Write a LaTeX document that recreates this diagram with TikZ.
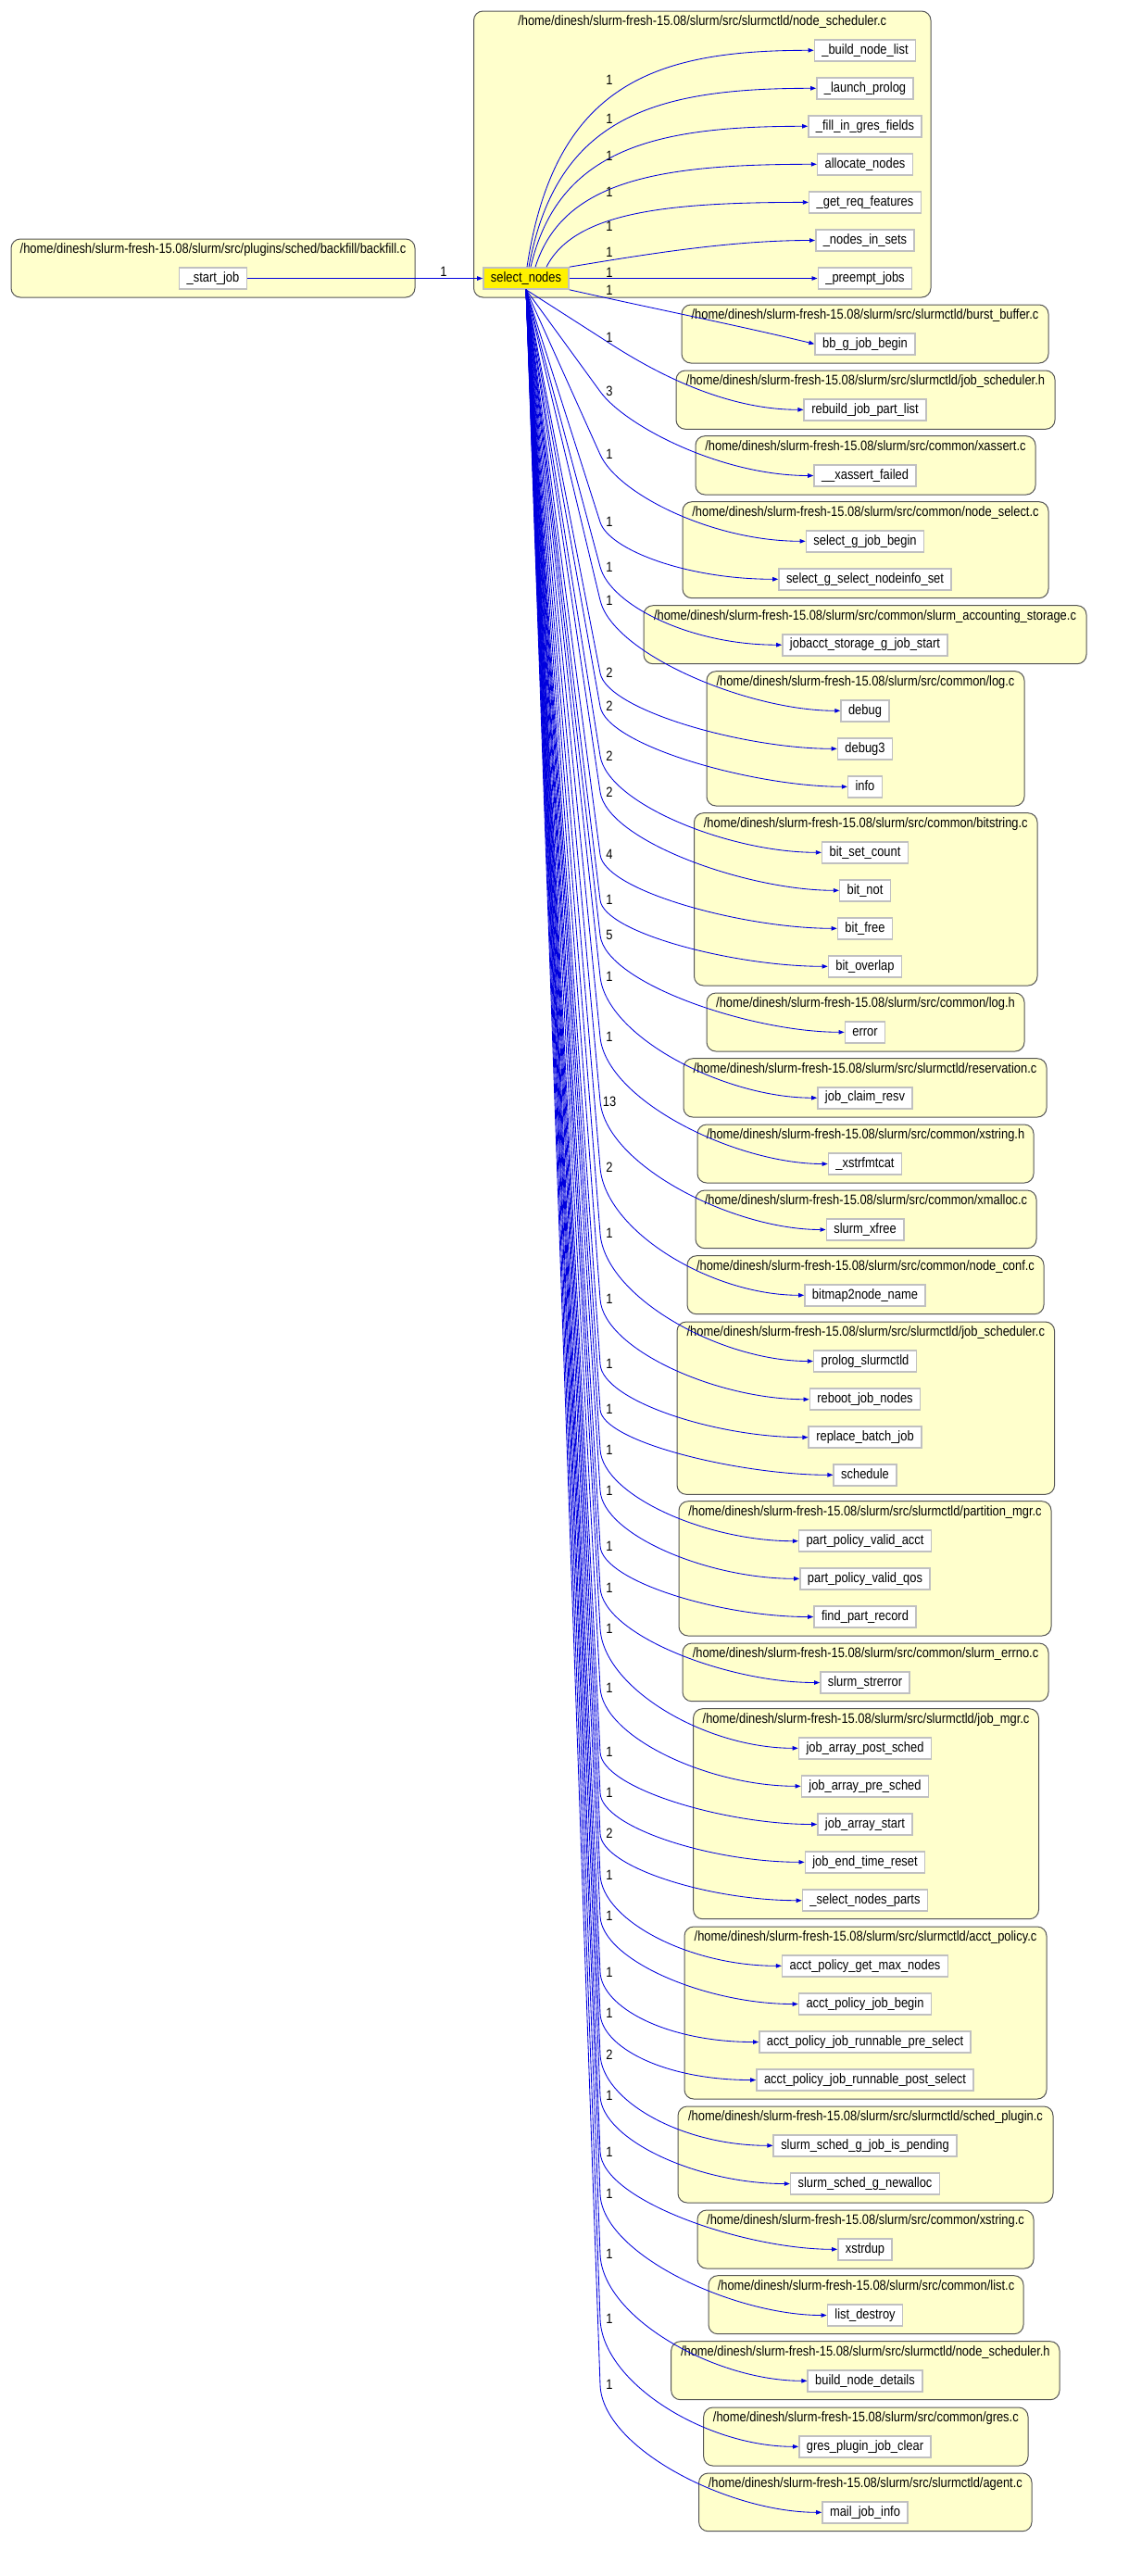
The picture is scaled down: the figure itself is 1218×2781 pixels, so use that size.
\documentclass[tikz,border=0pt]{standalone}
\usepackage{fontspec}
\setmainfont{Liberation Sans}[FakeStretch=0.86]
\usetikzlibrary{arrows.meta,calc}
\definecolor{clfill}{HTML}{FFFFCC}
\definecolor{clline}{HTML}{555555}
\definecolor{ndline}{HTML}{C0C0C0}
\definecolor{edgec}{HTML}{0000DD}
\newcommand{\myfs}{\fontsize{15pt}{18pt}\selectfont}
\newcommand{\pthx}{/home/dinesh/slurm-fresh-15.08/slurm/src/}
\newcommand{\clus}[7]{%
  \draw[cl] (#2,#3) rectangle (#4,#5);
  \node[ttl] (#1) at ({(#2+#4)/2},#6) {\pthx #7};}
\begin{document}
\begin{tikzpicture}[x=1pt,y=-1pt,
  cl/.style={draw=clline, fill=clfill, rounded corners=10pt, line width=1pt},
  fn/.style={draw=ndline, line width=1.6pt, fill=white, minimum height=23pt, inner xsep=8pt, inner ysep=0pt, font=\myfs, text height=10.7pt, text depth=3.2pt},
  sn/.style={fn, fill=yellow},
  ttl/.style={font=\myfs, inner sep=0pt, text height=10.7pt, text depth=3.2pt},
  lbl/.style={font=\myfs, inner sep=0pt},
  edge/.style={draw=edgec, line width=0.85pt, -{Triangle[length=6pt,width=4.5pt]}}]
\fill[white] (0,0) rectangle (1218,2781);
\useasboundingbox (0,0) rectangle (1218,2781);

% clusters
\clus{cbf}{12}{258}{448}{321}{270}{plugins/sched/backfill/backfill.c}
\clus{cns}{511.5}{12}{1005}{321}{24}{slurmctld/node\_scheduler.c}
\clus{cbb}{736}{329}{1132}{392}{341}{slurmctld/burst\_buffer.c}
\clus{cjsh}{730}{400}{1139}{463.3}{411.7}{slurmctld/job\_scheduler.h}
\clus{cxa}{751}{470.7}{1118}{534}{482.7}{common/xassert.c}
\clus{cnsel}{737}{541.7}{1132}{645.7}{553.7}{common/node\_select.c}
\clus{csas}{695}{653.7}{1173}{716.7}{665.7}{common/slurm\_accounting\_storage.c}
\clus{clogc}{763}{724.7}{1106}{870}{736.7}{common/log.c}
\clus{cbit}{749.5}{877.7}{1120}{1064}{890}{common/bitstring.c}
\clus{clogh}{763}{1072}{1106}{1135}{1084}{common/log.h}
\clus{cres}{738}{1142.7}{1130}{1206}{1154.7}{slurmctld/reservation.c}
\clus{cxsh}{753}{1214}{1116}{1277}{1226}{common/xstring.h}
\clus{cxm}{751}{1285}{1119}{1347.7}{1296.7}{common/xmalloc.c}
\clus{cnc}{742}{1355.7}{1127}{1418.7}{1367.7}{common/node\_conf.c}
\clus{cjsc}{731}{1427}{1138.6}{1613.3}{1438.7}{slurmctld/job\_scheduler.c}
\clus{cpm}{733}{1620.7}{1135}{1766}{1632.7}{slurmctld/partition\_mgr.c}
\clus{cse}{737}{1774}{1132}{1836.7}{1785.7}{common/slurm\_errno.c}
\clus{cjm}{748.6}{1844.7}{1121.5}{2071.7}{1856.7}{slurmctld/job\_mgr.c}
\clus{cap}{739}{2080}{1130}{2266}{2091.7}{slurmctld/acct\_policy.c}
\clus{csp}{732}{2274}{1137}{2378}{2286}{slurmctld/sched\_plugin.c}
\clus{cxsc}{753}{2386}{1116}{2449}{2397.7}{common/xstring.c}
\clus{clist}{765}{2456.7}{1105}{2519.7}{2469}{common/list.c}
\clus{cnsh}{724.7}{2527.7}{1144}{2590.7}{2539.7}{slurmctld/node\_scheduler.h}
\clus{cgres}{759.7}{2599}{1110}{2662}{2610.7}{common/gres.c}
\clus{cag}{754.6}{2670}{1114}{2732.7}{2682}{slurmctld/agent.c}

% nodes
\node[fn] (start) at (230,300.5) {\_start\_job};
\node[sn] (sel) at (568,300.5) {select\_nodes};
\foreach \n/\y/\txt in {
  build/54.3/\_build\_node\_list, launch/95.3/\_launch\_prolog,
  fill/136.3/\_fill\_in\_gres\_fields, alloc/177.3/allocate\_nodes,
  getreq/218.4/\_get\_req\_features, nodesin/259.5/\_nodes\_in\_sets,
  preempt/300.5/\_preempt\_jobs, bb/371.3/bb\_g\_job\_begin,
  rebuild/442.3/rebuild\_job\_part\_list, xassert/513.5/\_\_xassert\_failed,
  sgjb/584.3/select\_g\_job\_begin, sgsni/625.3/select\_g\_select\_nodeinfo\_set,
  jobacct/696.2/jobacct\_storage\_g\_job\_start, debug/767.3/debug,
  debugthree/808.3/debug3, info/849.3/info, bitset/920.3/bit\_set\_count,
  bitnot/961.3/bit\_not, bitfree/1002.3/bit\_free, bitoverlap/1043.3/bit\_overlap,
  error/1114.3/error, jcr/1185.2/job\_claim\_resv, xstrfmtcat/1256.5/\_xstrfmtcat,
  xfree/1327.5/slurm\_xfree, bitmap/1398.3/bitmap2node\_name,
  prolog/1469.5/prolog\_slurmctld, reboot/1510.7/reboot\_job\_nodes,
  replace/1551.7/replace\_batch\_job, schedule/1592.3/schedule,
  ppva/1663.7/part\_policy\_valid\_acct, ppvq/1704.3/part\_policy\_valid\_qos,
  fpr/1745.5/find\_part\_record, strerror/1816.5/slurm\_strerror,
  japost/1887.3/job\_array\_post\_sched, japre/1928.3/job\_array\_pre\_sched,
  jas/1969.5/job\_array\_start, jetr/2010.3/job\_end\_time\_reset,
  snp/2051.7/\_select\_nodes\_parts, apgmn/2122.3/acct\_policy\_get\_max\_nodes,
  apjb/2163.5/acct\_policy\_job\_begin, apjrpre/2204.5/acct\_policy\_job\_runnable\_pre\_select,
  apjrpost/2245.5/acct\_policy\_job\_runnable\_post\_select,
  ssgjip/2316.3/slurm\_sched\_g\_job\_is\_pending, ssgn/2357.5/slurm\_sched\_g\_newalloc,
  xstrdup/2428.3/xstrdup, listd/2499.5/list\_destroy, bnd/2570.3/build\_node\_details,
  gpjc/2641.3/gres\_plugin\_job\_clear, mji/2712.3/mail\_job\_info}
  {\node[fn] (\n) at (934,\y) {\txt};}

% edges
\draw[edge] (start.east) -- (sel.west);
\node[lbl] (lstart) at (479,293) {1};
\foreach \t/\sx/\ty/\ly in {build/569/54.3/86, launch/571/95.3/128, fill/573/136.3/168, alloc/578/177.3/207, getreq/590/218.4/244}{
  \draw[edge] ($(sel.north)+({\sx-568},0)$) .. controls ({\sx+30},{\ty+0.15*(289-\ty)}) and ({\sx+0.45*(878-\sx)},\ty) .. (\t.west);
  \node[lbl] (lab\t) at (658,\ly) {1};
}
\draw[edge] (sel.north east) .. controls (700,274) and (790,259.5) .. (nodesin.west);
\node[lbl] (labnodesin) at (658,272) {1};
\draw[edge] (sel.east) -- (preempt.west);
\node[lbl] (labpreempt) at (658,294) {1};
\draw[edge] (sel.south east) .. controls (700,332) and (800,352) .. (bb.west);
\node[lbl] (labbb) at (658,313) {1};

\foreach \t/\L/\ty/\lab in {
  rebuild/364/442.3/1, xassert/422.7/513.5/3, sgjb/490.7/584.3/1,
  sgsni/563.7/625.3/1, jobacct/612/696.2/1, debug/648/767.3/1,
  debugthree/726.7/808.3/2, info/762.7/849.3/2, bitset/816/920.3/2,
  bitnot/855/961.3/2, bitfree/922.7/1002.3/4, bitoverlap/971.7/1043.3/1,
  error/1009.7/1114.3/5, jcr/1054.3/1185.2/1, xstrfmtcat/1119.7/1256.5/1,
  xfree/1189/1327.5/13, bitmap/1260.7/1398.3/2, prolog/1331.7/1469.5/1,
  reboot/1402.7/1510.7/1, replace/1472.7/1551.7/1, schedule/1521.7/1592.3/1,
  ppva/1565/1663.7/1, ppvq/1609/1704.3/1, fpr/1669/1745.5/1,
  strerror/1714/1816.5/1, japost/1758/1887.3/1, japre/1822/1928.3/1,
  jas/1891.7/1969.5/1, jetr/1935.7/2010.3/1, snp/1979.7/2051.7/2,
  apgmn/2024/2122.3/1, apjb/2068.7/2163.5/1, apjrpre/2129/2204.5/1,
  apjrpost/2173.7/2245.5/1, ssgjip/2218/2316.3/2, ssgn/2262.7/2357.5/1,
  xstrdup/2323/2428.3/1, listd/2368.7/2499.5/1, bnd/2433.7/2570.3/1,
  gpjc/2503.7/2641.3/1, mji/2574.7/2712.3/1}{
  \pgfmathsetmacro\myDy{(\L-312)/100}
  \pgfmathsetmacro\myLen{sqrt(0.8*0.8+\myDy*\myDy)}
  \pgfmathsetmacro\myD{0.5*(\ty-\L)}
  \pgfmathsetmacro\myCx{648+0.8*\myD/\myLen}
  \pgfmathsetmacro\myCy{\L+\myDy*\myD/\myLen}
  \draw[edge] (sel.south) -- (648,\L) .. controls (\myCx,\myCy) and ($(\t.west)+(-100,0)$) .. (\t.west);
  \node[lbl] (lab\t) at (658,\L) {\lab};
}
\end{tikzpicture}
\end{document}
